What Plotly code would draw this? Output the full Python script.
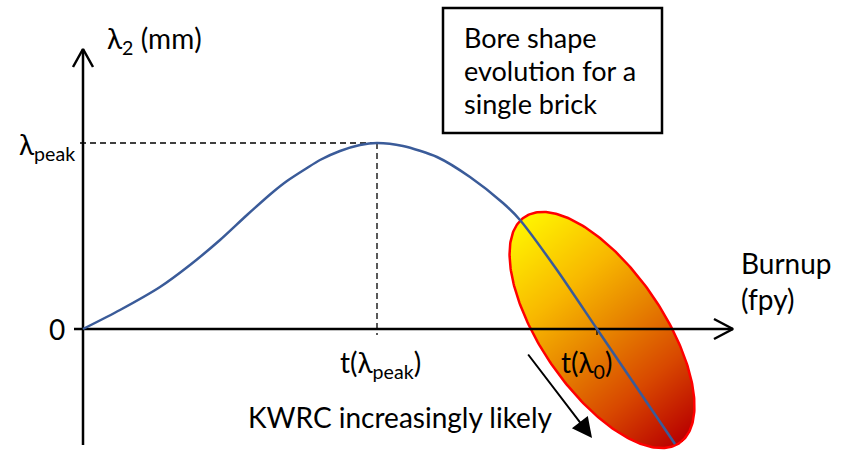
import numpy as np
import plotly.graph_objects as go

# ---- data (schematic units: burnup along x, lambda2 along y) ----
burnup = [0, 37, 77, 107, 137, 164, 190, 204, 224, 237, 257, 277, 294, 320, 354, 387, 420, 437, 474, 514, 552, 592]
lambda2 = [0, 19, 42, 64, 89, 114, 137, 148, 161, 169, 178, 184, 186, 183, 172, 152, 126, 109, 59, 0, -56, -115]

t_peak = 294
lambda_peak = 186
t_zero = 514

# axes extents
x_axis = [-9, 650]
y_axis = [-116, 280]

# KWRC region (ellipse)
ell_center = [519, -1]
ell_axes = [137, 61]
ell_angle = -55.5  # degrees

# arrow "KWRC increasingly likely"
kwrc_tail = [444, -24]
kwrc_tip = [509, -109]

# text box
box_x = [360, 579]
box_y = [196, 321]
box_lines = ["Bore shape", "evolution for a", "single brick"]
box_line_y = [292, 259, 226]

FONT = "Lato"
FS = 28
FS_BOX = 27

fig = go.Figure()

# gradient-filled ellipse (heatmap masked to ellipse)
cx, cy = ell_center
a, b = ell_axes
th = np.deg2rad(ell_angle)
gx = np.arange(cx - 100, cx + 100, 1.0)
gy = np.arange(cy - 130, cy + 130, 1.0)
GX, GY = np.meshgrid(gx, gy)
dx, dy = GX - cx, GY - cy
u = dx * np.cos(th) + dy * np.sin(th)
v = -dx * np.sin(th) + dy * np.cos(th)
r = (u / a) ** 2 + (v / b) ** 2
phi = np.deg2rad(-50)
proj = dx * np.cos(phi) + dy * np.sin(phi)
ext = np.sqrt((a * np.cos(th - phi)) ** 2 + (b * np.sin(th - phi)) ** 2)
Z = (proj + ext) / (2 * ext)
Z = np.where(r <= 1.0, Z, np.nan)
fig.add_trace(go.Heatmap(
    x=gx, y=gy, z=Z, zmin=0, zmax=1, showscale=False, hoverinfo="skip",
    colorscale=[[0, "#FFF500"], [0.3, "#F8B800"], [0.5, "#E88800"],
                [0.75, "#D84800"], [1, "#B80000"]],
))

# ellipse outline
tt = np.linspace(0, 2 * np.pi, 300)
ex = cx + a * np.cos(tt) * np.cos(th) - b * np.sin(tt) * np.sin(th)
ey = cy + a * np.cos(tt) * np.sin(th) + b * np.sin(tt) * np.cos(th)
fig.add_trace(go.Scatter(x=ex, y=ey, mode="lines", line=dict(color="#FF0000", width=2.5),
                         hoverinfo="skip", showlegend=False))

# axes lines
fig.add_trace(go.Scatter(x=x_axis, y=[0, 0], mode="lines", line=dict(color="black", width=2.5),
                         hoverinfo="skip", showlegend=False))
fig.add_trace(go.Scatter(x=[0, 0], y=y_axis, mode="lines", line=dict(color="black", width=2.5),
                         hoverinfo="skip", showlegend=False))
# open arrowheads
fig.add_trace(go.Scatter(x=[x_axis[1] - 19, x_axis[1], x_axis[1] - 19], y=[10, 0, -10], mode="lines",
                         line=dict(color="black", width=2.5), hoverinfo="skip", showlegend=False))
fig.add_trace(go.Scatter(x=[-10, 0, 10], y=[y_axis[1] - 18, y_axis[1], y_axis[1] - 18], mode="lines",
                         line=dict(color="black", width=2.5), hoverinfo="skip", showlegend=False))

# dashed guides
fig.add_trace(go.Scatter(x=[-3, t_peak], y=[lambda_peak, lambda_peak], mode="lines",
                         line=dict(color="black", width=1.3, dash="6px,4px"), hoverinfo="skip", showlegend=False))
fig.add_trace(go.Scatter(x=[t_peak, t_peak], y=[lambda_peak, -6], mode="lines",
                         line=dict(color="black", width=1.3, dash="6px,4px"), hoverinfo="skip", showlegend=False))
# tick at t(lambda0)
fig.add_trace(go.Scatter(x=[t_zero, t_zero], y=[0, -6], mode="lines",
                         line=dict(color="black", width=1.3), hoverinfo="skip", showlegend=False))

# curve
fig.add_trace(go.Scatter(x=burnup, y=lambda2, mode="lines",
                         line=dict(color="#3A5B99", width=2.5, shape="spline", smoothing=0.7),
                         hoverinfo="skip", showlegend=False))

# box
fig.add_shape(type="rect", x0=box_x[0], x1=box_x[1], y0=box_y[0], y1=box_y[1],
              line=dict(color="black", width=2.5), fillcolor="white", layer="below")

ann = []
def txt(x, y, s, xa="left", ya="middle", size=FS):
    ann.append(dict(x=x, y=y, text=s, showarrow=False, xanchor=xa, yanchor=ya,
                    font=dict(family=FONT, size=size, color="black")))

txt(22, 289, "λ<sub>2</sub> (mm)")
txt(-6, 183, "λ<sub>peak</sub>", xa="right")
txt(-16, 0, "0", xa="right")
txt(t_peak + 3, -35, "t(λ<sub>peak</sub>)", xa="center")
txt(t_zero - 11, -35, "t(λ<sub>0</sub>)", xa="center")
txt(656, 66, "Burnup")
txt(656, 30, "(fpy)")
txt(163, -88, "KWRC increasingly likely")
for s, yy in zip(box_lines, box_line_y):
    txt(box_x[0] + 19, yy, s, size=FS_BOX)

ann.append(dict(x=kwrc_tip[0], y=kwrc_tip[1], ax=kwrc_tail[0], ay=kwrc_tail[1],
                xref="x", yref="y", axref="x", ayref="y", showarrow=True, text="",
                arrowhead=2, arrowsize=2, arrowwidth=2, arrowcolor="black", standoff=0))

fig.update_layout(
    width=856, height=452, margin=dict(l=0, r=0, t=0, b=0),
    paper_bgcolor="white", plot_bgcolor="white", showlegend=False,
    xaxis=dict(range=[-83, 773], visible=False, fixedrange=True),
    yaxis=dict(range=[-123, 329], visible=False, fixedrange=True),
    annotations=ann,
)

fig.write_html("out.html")
